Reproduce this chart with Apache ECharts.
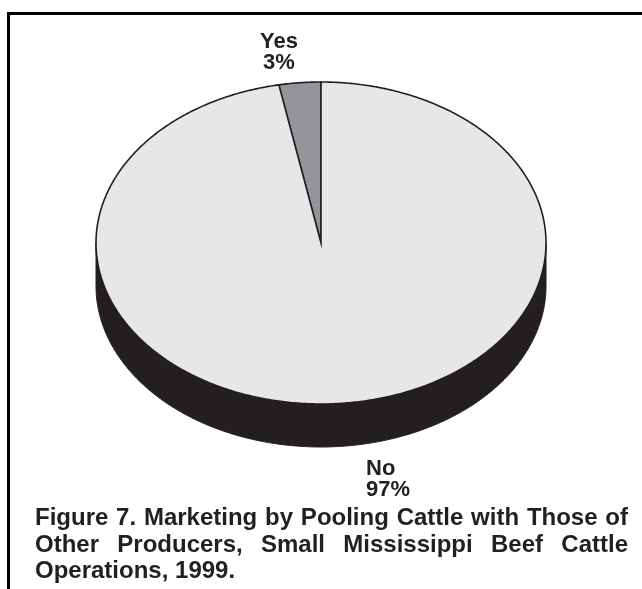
<!DOCTYPE html>
<html><head><meta charset="utf-8">
<script src="https://cdn.jsdelivr.net/npm/echarts@6/dist/echarts.min.js"></script>
<style>html,body{margin:0;padding:0;background:#fff}#c{width:642px;height:589px}</style>
</head><body><div id="c"></div>
<script>
// ---- data ----
const categories = ['Yes', 'No'];
const values = [3, 97];
const percentLabels = ['3%', '97%'];
const sliceColors = ['#939598', '#e6e7e8'];
const captionLines = [
  'Figure 7. Marketing by Pooling Cattle with Those of',
  'Other Producers, Small Mississippi Beef Cattle',
  'Operations, 1999.'
];
const captionJustify = [true, true, false];

// ---- layout ----
const CX = 321, CY = 243, RX = 225, RY = 161, DEPTH = 43;
const FONT = '"Liberation Sans", Arial, Helvetica, sans-serif';
const total = values.reduce((a, b) => a + b, 0);
const starts = []; { let acc = 0; values.forEach(v => { starts.push(acc); acc += v; }); }

function pt(t, dy) { return [CX + RX * Math.cos(t), CY - RY * Math.sin(t) + (dy || 0)]; }
function arcPts(a0, a1, dy) {
  const n = Math.max(2, Math.ceil(Math.abs(a1 - a0) / (Math.PI / 360)));
  const p = [];
  for (let i = 0; i <= n; i++) p.push(pt(a0 + (a1 - a0) * i / n, dy));
  return p;
}

function renderItem(params, api) {
  const i = params.dataIndex;
  const v = api.value(0);
  const a0 = Math.PI / 2 + 2 * Math.PI * starts[i] / total;
  const a1 = Math.PI / 2 + 2 * Math.PI * (starts[i] + v) / total;
  const children = [];
  // visible side: theta in [pi, 2pi] (+ k*2pi)
  [[Math.PI, 2 * Math.PI], [3 * Math.PI, 4 * Math.PI]].forEach(([s, e]) => {
    const s0 = Math.max(a0, s), s1 = Math.min(a1, e);
    if (s1 > s0) {
      const pts = arcPts(s0, s1, 0).concat(arcPts(s1, s0, DEPTH));
      children.push({ type: 'polygon', shape: { points: pts },
        style: { fill: '#231f20', stroke: '#231f20', lineWidth: 1 } });
    }
  });
  const face = [[CX, CY]].concat(arcPts(a0, a1, 0));
  children.push({ type: 'polygon', shape: { points: face },
    style: { fill: sliceColors[i], stroke: '#231f20', lineWidth: 1.6, lineJoin: 'miter' } });
  return { type: 'group', children };
}

// caption word layout (justified)
const ctx = document.createElement('canvas').getContext('2d');
const CAP_SIZE = 24;
ctx.font = 'bold ' + CAP_SIZE + 'px ' + FONT;
const CAP_LEFT = 35, CAP_RIGHT = 628;
const capBaselines = [526, 553, 579];
const captionGraphics = [];
captionLines.forEach((line, li) => {
  const words = line.split(' ');
  const widths = words.map(w => ctx.measureText(w).width);
  const sum = widths.reduce((a, b) => a + b, 0);
  const gap = captionJustify[li] ? (CAP_RIGHT - CAP_LEFT - sum) / (words.length - 1) : ctx.measureText(' ').width;
  let x = CAP_LEFT;
  words.forEach((w, wi) => {
    captionGraphics.push({ type: 'text', x: x, y: capBaselines[li] - 8,
      style: { text: w, font: 'bold ' + CAP_SIZE + 'px ' + FONT, fill: '#231f20',
        textAlign: 'left', textVerticalAlign: 'middle' } });
    x += widths[wi] + gap;
  });
});

const chart = echarts.init(document.getElementById('c'));
chart.setOption({
  animation: false,
  backgroundColor: '#ffffff',
  series: [{
    type: 'custom',
    coordinateSystem: 'none',
    renderItem: renderItem,
    data: values.map((v, i) => ({ name: categories[i], value: [v] }))
  }],
  graphic: [
    { type: 'polyline', shape: { points: [[8.5, 589], [8.5, 13.5], [642, 13.5]] },
      style: { stroke: '#000', lineWidth: 3, fill: null } },
    { type: 'text', x: 279, y: 31, style: { text: categories[0] + '\n' + percentLabels[0],
      font: 'bold 22px ' + FONT, fill: '#231f20', textAlign: 'center', lineHeight: 21 } },
    { type: 'text', x: 366, y: 458, style: { text: categories[1] + '\n' + percentLabels[1],
      font: 'bold 22px ' + FONT, fill: '#231f20', textAlign: 'left', lineHeight: 21 } }
  ].concat(captionGraphics)
});
</script>
</body></html>
